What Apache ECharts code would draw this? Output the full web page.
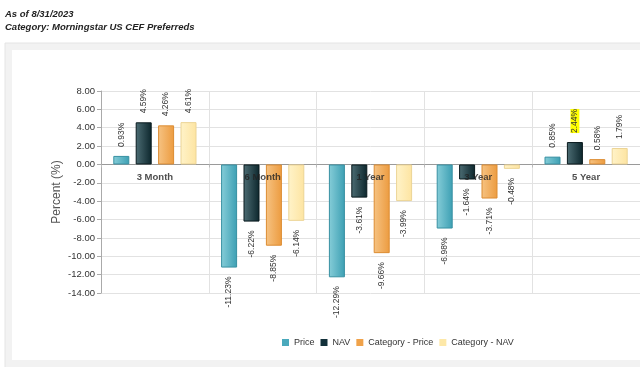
<!DOCTYPE html>
<html>
<head>
<meta charset="utf-8">
<script src="https://cdn.jsdelivr.net/npm/echarts@6/dist/echarts.min.js"></script>
<style>
html,body{margin:0;padding:0;background:#fff;}
#chart{width:640px;height:367px;}
</style>
</head>
<body>
<div id="chart"></div>
<script>
const categories = ['3 Month', '6 Month', '1 Year', '3 Year', '5 Year'];
const seriesNames = ['Price', 'NAV', 'Category - Price', 'Category - NAV'];
const priceValues = [0.93, -11.23, -12.29, -6.98, 0.85];
const navValues = [4.59, -6.22, -3.61, -1.64, 2.44];
const catPriceValues = [4.26, -8.85, -9.66, -3.71, 0.58];
const catNavValues = [4.61, -6.14, -3.99, -0.48, 1.79];
const yTickMin = -14, yTickMax = 8, yTickStep = 2;
const titleLines = ['As of 8/31/2023', 'Category: Morningstar US CEF Preferreds'];
const yAxisTitle = 'Percent (%)';
const highlighted = { series: 1, index: 4 }; // 5 Year NAV label is highlighted

const styles = [
  { light: '#86cdd8', dark: '#3c9fb3', border: '#3790a2', legend: '#4aa9bc' },
  { light: '#4d6d74', dark: '#0c262c', border: '#08191d', legend: '#12303a' },
  { light: '#f6c383', dark: '#ec9b3f', border: '#dc8c32', legend: '#f0a24a' },
  { light: '#fff3c9', dark: '#fde4a1', border: '#ecd495', legend: '#fde8a8' }
];
const allValues = [priceValues, navValues, catPriceValues, catNavValues];
const FONT = 'Arial, "Liberation Sans", sans-serif';

const chart = echarts.init(document.getElementById('chart'), null, { renderer: 'canvas' });

function buildData(vals, sIdx) {
  return vals.map((v, i) => {
    const item = { value: v };
    const lbl = {};
    if (v < 0) { lbl.position = 'bottom'; lbl.align = 'right'; }
    if (sIdx === highlighted.series && i === highlighted.index) {
      lbl.backgroundColor = '#ffff00';
    }
    item.label = lbl;
    return item;
  });
}

const series = seriesNames.map((name, s) => ({
  name: name,
  type: 'bar',
  barWidth: 16,
  barGap: '40%',
  data: buildData(allValues[s], s),
  itemStyle: {
    color: { type: 'linear', x: 0, y: 0, x2: 1, y2: 0,
      colorStops: [{ offset: 0, color: styles[s].light }, { offset: 1, color: styles[s].dark }] },
    borderColor: styles[s].border,
    borderWidth: 1
  },
  label: {
    show: true,
    position: 'top',
    rotate: 90,
    align: 'left',
    verticalAlign: 'middle',
    distance: 9,
    fontSize: 8.5,
    fontFamily: FONT,
    color: '#333',
    formatter: p => p.value.toFixed(2) + '%'
  }
}));

// category names drawn at the zero line (over the bars)
series.push({
  name: 'categoryLabels',
  type: 'scatter',
  silent: true,
  symbolSize: 0,
  z: 5,
  data: categories.map(c => [c, 0]),
  label: {
    show: true,
    position: 'bottom',
    distance: 8,
    formatter: p => p.name || p.value[0],
    fontSize: 9.5,
    fontWeight: 'bold',
    color: '#222',
    fontFamily: FONT
  }
});

const option = {
  animation: false,
  backgroundColor: '#ffffff',
  graphic: [
    { type: 'rect', z: -10, shape: { x: 5, y: 43, width: 640, height: 330 }, style: { fill: '#f2f2f2', stroke: '#e4e4e4', lineWidth: 1 } },
    { type: 'rect', z: -9, shape: { x: 12, y: 50, width: 640, height: 310 }, style: { fill: '#ffffff' } },
    { type: 'rect', z: 100, shape: { x: 102, y: 50, width: 540, height: 39 }, style: { fill: '#ffffff' } },
    { type: 'text', left: 5, top: 9, style: { text: titleLines[0], font: 'italic bold 9.5px Arial, "Liberation Sans", sans-serif', fill: '#222' } },
    { type: 'text', left: 5, top: 22, style: { text: titleLines[1], font: 'italic bold 9.5px Arial, "Liberation Sans", sans-serif', fill: '#222' } }
  ],
  grid: { left: 101, right: 0, top: 91, bottom: 74 },
  legend: {
    left: 282,
    top: 338,
    padding: 0,
    itemWidth: 7,
    itemHeight: 7,
    itemGap: 6,
    icon: 'rect',
    textStyle: { fontSize: 9, color: '#333', fontFamily: FONT },
    data: seriesNames.map((n, s) => ({ name: n, itemStyle: { color: styles[s].legend, borderWidth: 0 } }))
  },
  xAxis: {
    type: 'category',
    data: categories,
    axisLine: { onZero: true, lineStyle: { color: '#9a9a9a', width: 1 } },
    axisTick: { show: true, length: 3, lineStyle: { color: '#bbb' } },
    axisLabel: { show: false },
    splitLine: { show: true, lineStyle: { color: '#e2e2e2', width: 1 } }
  },
  yAxis: {
    type: 'value',
    min: yTickMin,
    max: yTickMax,
    interval: yTickStep,
    name: yAxisTitle,
    nameLocation: 'middle',
    nameGap: 38,
    nameMoveOverlap: false,
    nameTextStyle: { fontSize: 12, color: '#555', fontFamily: FONT },
    axisLine: { show: true, lineStyle: { color: '#aaa' } },
    axisTick: { show: true, length: 4, lineStyle: { color: '#aaa' } },
    axisLabel: { fontSize: 9.5, color: '#333', margin: 6, fontFamily: FONT, formatter: v => v.toFixed(2) },
    splitLine: { show: true, lineStyle: { color: '#e2e2e2', width: 1 } }
  },
  series: series
};
chart.setOption(option);
</script>
</body>
</html>
